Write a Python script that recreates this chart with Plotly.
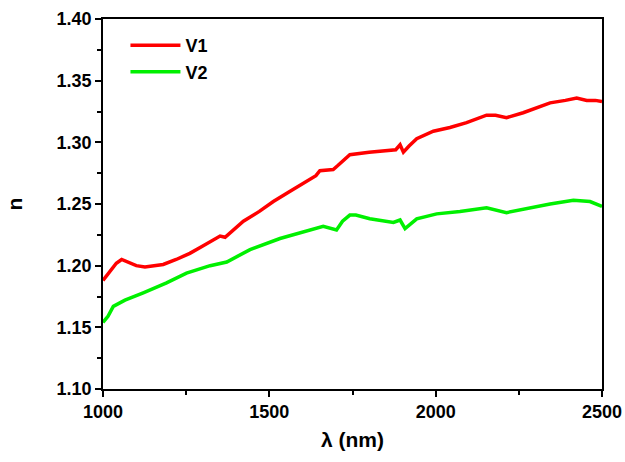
import plotly.graph_objects as go

v1_wl = [1000, 1020, 1040, 1056, 1080, 1100, 1126, 1150, 1181, 1220, 1261, 1300, 1352, 1367, 1422, 1470, 1512, 1560, 1612, 1640, 1652, 1692, 1705, 1732, 1742, 1800, 1863, 1880, 1893, 1903, 1920, 1943, 1993, 2043, 2093, 2153, 2180, 2213, 2263, 2300, 2344, 2390, 2424, 2454, 2480, 2500]
v1_n = [1.188, 1.195, 1.202, 1.205, 1.202, 1.200, 1.199, 1.200, 1.201, 1.205, 1.210, 1.216, 1.224, 1.223, 1.236, 1.244, 1.252, 1.260, 1.268, 1.273, 1.277, 1.278, 1.281, 1.288, 1.290, 1.292, 1.294, 1.294, 1.298, 1.292, 1.297, 1.303, 1.309, 1.312, 1.316, 1.322, 1.322, 1.320, 1.324, 1.328, 1.332, 1.334, 1.336, 1.334, 1.334, 1.333]

v2_wl = [1000, 1015, 1031, 1066, 1121, 1191, 1251, 1322, 1372, 1442, 1532, 1612, 1662, 1702, 1720, 1742, 1760, 1802, 1873, 1893, 1908, 1943, 2003, 2073, 2153, 2213, 2284, 2344, 2414, 2464, 2500]
v2_n = [1.154, 1.159, 1.167, 1.172, 1.178, 1.186, 1.194, 1.200, 1.203, 1.213, 1.222, 1.228, 1.232, 1.229, 1.236, 1.241, 1.241, 1.238, 1.235, 1.237, 1.230, 1.238, 1.242, 1.244, 1.247, 1.243, 1.247, 1.250, 1.253, 1.252, 1.248]

x_ticks = [1000, 1500, 2000, 2500]
y_ticks = [1.10, 1.15, 1.20, 1.25, 1.30, 1.35, 1.40]

fig = go.Figure()
fig.add_trace(go.Scatter(x=v1_wl, y=v1_n, mode="lines", name="V1",
                         line=dict(color="#ff0000", width=3.5)))
fig.add_trace(go.Scatter(x=v2_wl, y=v2_n, mode="lines", name="V2",
                         line=dict(color="#00f000", width=3.5)))

font = "Liberation Sans, Arial, sans-serif"
axis_common = dict(showline=True, linecolor="black", linewidth=1.5, mirror=True,
                   ticks="outside", ticklen=6, tickwidth=1.5, tickcolor="black",
                   showgrid=False, zeroline=False, automargin=False,
                   tickfont=dict(family=font, size=18, color="black", weight="bold"))

fig.update_layout(
    width=625, height=462,
    margin=dict(l=103, r=23, t=19, b=73),
    paper_bgcolor="white", plot_bgcolor="white",
    xaxis=dict(range=[1000, 2500], tickvals=x_ticks,
               ticktext=[str(v) for v in x_ticks],
               minor=dict(tickvals=[1250, 1750, 2250], ticklen=4, tickwidth=1.5, tickcolor="black", ticks="outside"),
               title=dict(text="λ (nm)", font=dict(family=font, size=21, color="black", weight="bold"), standoff=11),
               **axis_common),
    yaxis=dict(range=[1.10, 1.40], tickvals=y_ticks,
               ticktext=[f"{v:.2f}" for v in y_ticks],
               minor=dict(tickvals=[1.125, 1.175, 1.225, 1.275, 1.325, 1.375], ticklen=4, tickwidth=1.5, tickcolor="black", ticks="outside"),
               title=dict(text="n", font=dict(family=font, size=21, color="black", weight="bold"), standoff=28),
               **axis_common),
    legend=dict(x=0.045, y=0.978, xanchor="left", yanchor="top", bgcolor="rgba(0,0,0,0)",
                font=dict(family=font, size=18, color="black", weight="bold"),
                tracegroupgap=0, itemwidth=50),
    showlegend=True,
)

fig.write_html("out.html")
